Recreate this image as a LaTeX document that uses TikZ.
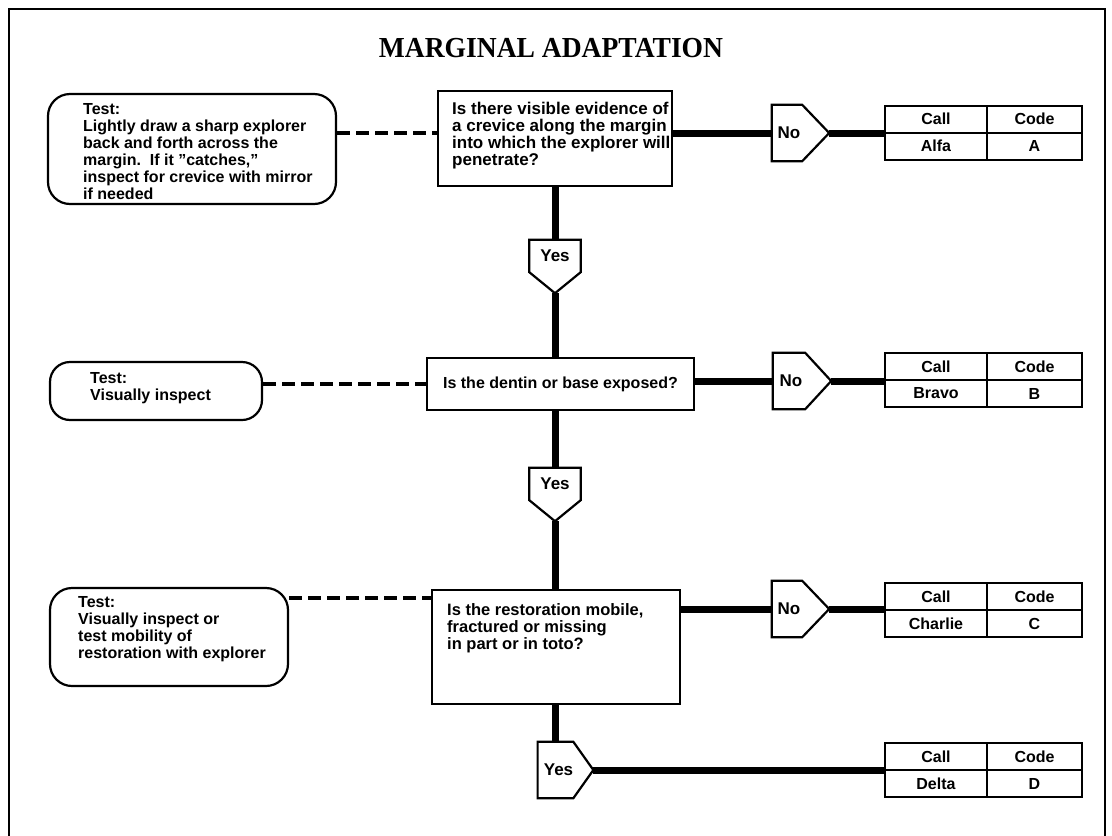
\documentclass[tikz,border=0pt]{standalone}
\usepackage{fontspec}
\setmainfont{Liberation Sans}
\newfontfamily\titlefont{Liberation Serif}[FakeStretch=0.95]
\begin{document}
\begin{tikzpicture}[x=1pt,y=-1pt,
  boxline/.style={draw, line width=2.2pt, inner sep=0pt},
  testbox/.style={boxline, rounded corners=22pt},
  qbox/.style={boxline, font=\bfseries\fontsize{16}{17}\selectfont},
  txt/.style={inner sep=0pt, align=left, anchor=north west, font=\bfseries\fontsize{16}{17}\selectfont},
  qtxt/.style={txt, font=\bfseries\fontsize{17}{17}\selectfont},
  lbl/.style={inner sep=0pt, font=\bfseries\fontsize{17}{17}\selectfont},
  cell/.style={draw, line width=2pt, inner sep=0pt, minimum height=27pt, font=\bfseries\fontsize{16}{17}\selectfont},
  callcol/.style={cell, minimum width=102pt},
  codecol/.style={cell, minimum width=95pt},
  pentline/.style={draw, line width=2.2pt, line join=miter},
  conn/.style={line width=7pt},
  dashline/.style={line width=3.2pt, dash pattern=on 13pt off 6pt},
]
\useasboundingbox (0,0) rectangle (1112,836);
\fill[white] (0,0) rectangle (1112,836);
% page frame, open at the bottom
\draw[line width=2.5pt] (9,836) -- (9,9) -- (1105,9) -- (1105,836);

\node[font=\titlefont\bfseries\fontsize{29}{32}\selectfont] (title) at (551,48) {MARGINAL ADAPTATION};

% row coordinates of the horizontal connectors
\coordinate (r1) at (0,133);
\coordinate (r2) at (0,381);
\coordinate (d2) at (0,384);
\coordinate (r3) at (0,609);
\coordinate (d3) at (0,598);
\coordinate (r4) at (0,770);

% ---------- first question ----------
\node[testbox, minimum width=288pt, minimum height=110pt] (t1) at (192,149) {};
\node[txt] (t1txt) at (83,103) {Test:\\Lightly draw a sharp explorer\\back and forth across the\\margin.\ \ If it ''catches,''\\inspect for crevice with mirror\\if needed};
\node[boxline, minimum width=234pt, minimum height=95pt] (q1) at (555,138.5) {};
\node[qtxt] (q1txt) at (452,102) {Is there visible evidence of\\a crevice along the margin\\into which the explorer will\\penetrate?};
\draw[dashline] (t1.east |- r1) -- (q1.west |- r1);

\node[lbl, minimum width=30pt, minimum height=56pt] (no1) at (787,133) {\hspace*{4pt}No};
\coordinate (no1tip) at ([xshift=27pt]no1.east);
\draw[pentline] (no1.north west) -- (no1.north east) -- (no1tip) -- (no1.south east) -- (no1.south west) -- cycle;

\node[callcol] (c1a) at (936,119) {Call};
\node[codecol] (c1b) at (1034.5,119) {Code};
\node[callcol] (c1c) at (936,146) {Alfa};
\node[codecol] (c1d) at (1034.5,146) {A};
\draw[conn] (q1.east |- r1) -- (no1.west |- r1);
\draw[conn] (no1tip) -- (no1tip -| c1c.west);

\node[lbl, minimum width=51pt, minimum height=32pt] (yes1) at (555,256) {Yes};
\coordinate (yes1tip) at ([yshift=-21pt]yes1.south);
\draw[pentline] (yes1.north west) -- (yes1.north east) -- (yes1.south east) -- (yes1tip) -- (yes1.south west) -- cycle;
\draw[conn] (yes1.north |- q1.south) -- (yes1.north);

% ---------- second question ----------
\node[testbox, rounded corners=20pt, minimum width=212pt, minimum height=58pt] (t2) at (156,391) {};
\node[txt] (t2txt) at (90,372) {Test:\\Visually inspect};
\node[qbox, minimum width=267pt, minimum height=52pt] (q2) at (560.5,384) {Is the dentin or base exposed?};
\draw[dashline] (t2.east |- d2) -- (q2.west |- d2);
\draw[conn] (yes1tip) -- (yes1tip |- q2.north);

\node[lbl, minimum width=32pt, minimum height=56pt] (no2) at (789,381) {\hspace*{4pt}No};
\coordinate (no2tip) at ([xshift=26pt]no2.east);
\draw[pentline] (no2.north west) -- (no2.north east) -- (no2tip) -- (no2.south east) -- (no2.south west) -- cycle;

\node[callcol] (c2a) at (936,366.5) {Call};
\node[codecol] (c2b) at (1034.5,366.5) {Code};
\node[callcol] (c2c) at (936,393.5) {Bravo};
\node[codecol] (c2d) at (1034.5,393.5) {B};
\draw[conn] (q2.east |- r2) -- (no2.west |- r2);
\draw[conn] (no2tip) -- (no2tip -| c2c.west);

\node[lbl, minimum width=51pt, minimum height=32pt] (yes2) at (555,484) {Yes};
\coordinate (yes2tip) at ([yshift=-21pt]yes2.south);
\draw[pentline] (yes2.north west) -- (yes2.north east) -- (yes2.south east) -- (yes2tip) -- (yes2.south west) -- cycle;
\draw[conn] (yes2.north |- q2.south) -- (yes2.north);

% ---------- third question ----------
\node[testbox, minimum width=238pt, minimum height=98pt] (t3) at (169,637) {};
\node[txt] (t3txt) at (78,596) {Test:\\Visually inspect or\\test mobility of\\restoration with explorer};
\node[boxline, minimum width=248pt, minimum height=114pt] (q3) at (556,647) {};
\node[txt, font=\bfseries\fontsize{16.5}{17}\selectfont] (q3txt) at (447,603) {Is the restoration mobile,\\fractured or missing\\in part or in toto?};
\draw[dashline] (t3.east |- d3) -- (q3.west |- d3);
\draw[conn] (yes2tip) -- (yes2tip |- q3.north);

\node[lbl, minimum width=30pt, minimum height=56pt] (no3) at (787,609) {\hspace*{4pt}No};
\coordinate (no3tip) at ([xshift=27pt]no3.east);
\draw[pentline] (no3.north west) -- (no3.north east) -- (no3tip) -- (no3.south east) -- (no3.south west) -- cycle;

\node[callcol] (c3a) at (936,596.5) {Call};
\node[codecol] (c3b) at (1034.5,596.5) {Code};
\node[callcol] (c3c) at (936,623.5) {Charlie};
\node[codecol] (c3d) at (1034.5,623.5) {C};
\draw[conn] (q3.east |- r3) -- (no3.west |- r3);
\draw[conn] (no3tip) -- (no3tip -| c3c.west);

% ---------- final branch ----------
\node[lbl, minimum width=35pt, minimum height=56pt] (yes3) at (555.5,770) {\hspace*{6pt}Yes};
\coordinate (yes3tip) at ([xshift=20pt]yes3.east);
\draw[pentline] (yes3.north west) -- (yes3.north east) -- (yes3tip) -- (yes3.south east) -- (yes3.south west) -- cycle;
\draw[conn] (yes3.north |- q3.south) -- (yes3.north);

\node[callcol] (c4a) at (936,756.5) {Call};
\node[codecol] (c4b) at (1034.5,756.5) {Code};
\node[callcol] (c4c) at (936,783.5) {Delta};
\node[codecol] (c4d) at (1034.5,783.5) {D};
\draw[conn] (yes3tip) -- (yes3tip -| c4c.west);
\end{tikzpicture}
\end{document}
